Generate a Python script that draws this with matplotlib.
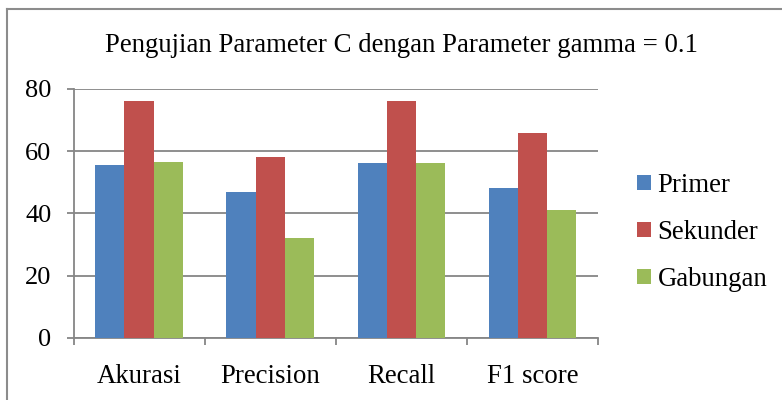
import matplotlib
matplotlib.use("Agg")
import matplotlib.pyplot as plt
import numpy as np
from matplotlib.lines import Line2D

categories = ["Akurasi", "Precision", "Recall", "F1 score"]
series_names = ["Primer", "Sekunder", "Gabungan"]
primer = [55.7, 47.0, 56.1, 48.0]
sekunder = [76.3, 58.0, 76.1, 66.0]
gabungan = [56.4, 32.0, 56.1, 41.0]
yticks = [0, 20, 40, 60, 80]
title = "Pengujian Parameter C dengan Parameter gamma = 0.1"

colors = ["#4F81BD", "#C0504D", "#9BBB59"]
plt.rcParams['font.family'] = ['Liberation Serif', 'DejaVu Serif']

W, H = 782, 400
fig = plt.figure(figsize=(W/100, H/100), dpi=100)
ax = fig.add_axes([73.5/W, 1-337.7/H, (598-73.5)/W, (337.7-89)/H])

x = np.arange(len(categories))
bw = 0.667/3
for i, (vals, name) in enumerate(zip([primer, sekunder, gabungan], series_names)):
    ax.bar(x + (i-1)*bw, vals, width=bw, color=colors[i], label=name, zorder=3)

ax.set_xlim(-0.5, len(categories)-0.5)
ax.set_ylim(0, 80)
ax.set_yticks(yticks)
ax.set_yticklabels([str(v) for v in yticks])
ax.set_xticks(x)
ax.set_xticklabels(categories)
ax.set_xticks(np.arange(-0.5, len(categories), 1.0), minor=True)
gc = "#868686"
ax.grid(axis='y', color=gc, linewidth=1.3, zorder=0)
for s in ['top', 'right']:
    ax.spines[s].set_visible(False)
for s in ['left', 'bottom']:
    ax.spines[s].set_color(gc)
    ax.spines[s].set_linewidth(1.3)
ax.tick_params(axis='y', direction='out', length=5, width=1.3, color=gc, pad=11, labelsize=19)
ax.tick_params(axis='x', which='major', length=0, pad=19, labelsize=19.3)
ax.tick_params(axis='x', which='minor', direction='out', length=5, width=1.3, color=gc)

fig.text(401/W, 1-52/H, title, ha='center', va='baseline', fontsize=19.3)

leg = ax.legend(loc='upper left', bbox_to_anchor=(637/W, 1-173/H), bbox_transform=fig.transFigure,
                frameon=False, fontsize=19.3, handlelength=0.52, handleheight=0.52,
                handletextpad=0.25, labelspacing=0.82, borderaxespad=0, borderpad=0)

fig.add_artist(Line2D([7/W, 1], [1-9/H, 1-9/H], color="#8c8c8c", linewidth=1.5, transform=fig.transFigure))
fig.add_artist(Line2D([7/W, 7/W], [0, 1-9/H], color="#8c8c8c", linewidth=1.5, transform=fig.transFigure))

fig.savefig("out.png", dpi=100)
